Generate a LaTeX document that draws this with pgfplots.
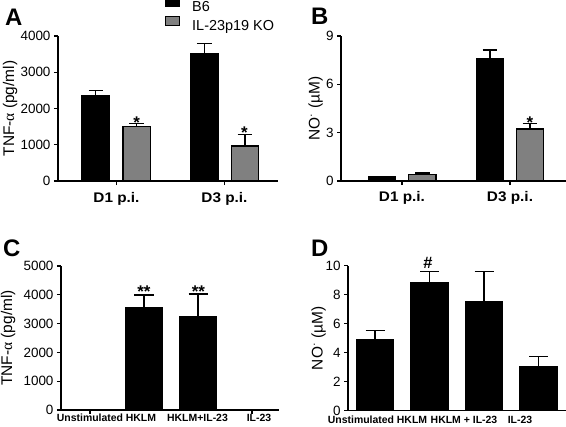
\documentclass[border=0pt]{standalone}
\usepackage{fontspec}
\setmainfont{Liberation Sans}
\newfontfamily\greek{Liberation Serif}
\newfontfamily\xlab[FakeStretch=1.1]{Liberation Sans Bold}
\usepackage{pgfplots}
\pgfplotsset{compat=1.18}
\definecolor{kogray}{gray}{0.5}

\pgfplotsset{
  panel/.style={
    scale only axis, anchor=south west, clip=false,
    axis lines=left, axis line style={-, line width=1.3bp, black},
    tick align=outside, major tick length=4bp,
    tick style={line width=1.3bp, black},
    /pgf/number format/assume math mode=true,
    /pgf/number format/1000 sep={},
    scaled y ticks=false,
    tick label style={font=\fontsize{13.5}{15}\selectfont},
    ylabel style={font=\fontsize{15.5}{17}\selectfont, anchor=center},
  },
  mybar/.style={ybar, bar shift=0pt, draw=black, line width=1.2bp,
    error bars/y dir=plus, error bars/y explicit,
    error bars/error bar style={line width=1.2bp, black},
    error bars/error mark options={rotate=90, line width=1.2bp, black, mark size=#1}},
}
\tikzset{starnode/.style={anchor=base, font=\bfseries\fontsize{17}{17}\selectfont, inner sep=0pt}}

\begin{document}
\begin{tikzpicture}
\path[use as bounding box] (0,0) rectangle (566bp,-427bp);

% Panel letters
\node[anchor=base west, inner sep=0pt, font=\bfseries\fontsize{24}{24}\selectfont] at (5bp,-25bp) {A};
\node[anchor=base west, inner sep=0pt, font=\bfseries\fontsize{24}{24}\selectfont] at (311bp,-24bp) {B};
\node[anchor=base west, inner sep=0pt, font=\bfseries\fontsize{24}{24}\selectfont] at (3bp,-256bp) {C};
\node[anchor=base west, inner sep=0pt, font=\bfseries\fontsize{24}{24}\selectfont] at (311bp,-256bp) {D};

% ---------------- Panel A ----------------
\begin{axis}[panel, at={(58bp,-181bp)}, width=220bp, height=145bp,
  xmin=58, xmax=278, ymin=0, ymax=4000, ytick={0,1000,2000,3000,4000},
  xtick={116.5,224.5}, xticklabels={D1 p.i., D3 p.i.},
  xticklabel style={font=\xlab\fontsize{14}{16}\selectfont, yshift=-4bp},
  ylabel={TNF-{\greek α} (pg/ml)},
  ylabel style={at={(axis description cs:-0.218,0.5)}},
  legend style={at={(axis description cs:0.4864,1.2717)}, anchor=north west,
    draw=none, fill=none, inner sep=0pt, outer sep=0pt,
    font=\fontsize{14.5}{16}\selectfont, row sep=3bp,
    nodes={inner sep=0pt},
    /tikz/every odd column/.append style={column sep=12bp}},
  legend cell align=left,
]
\addplot[mybar=7.3bp, fill=black, bar width=27.5, forget plot]
  coordinates {(95.8,2345) +- (0,145) (204.2,3503) +- (0,295)};
\addplot[mybar=7.3bp, fill=kogray, bar width=27.5, forget plot]
  coordinates {(136.7,1498) +- (0,94) (245,966) +- (0,322)};
\addlegendimage{legend image code/.code={\draw[fill=black,draw=black,line width=1.2bp] (0bp,0.7bp) rectangle (14bp,9.7bp);}}
\addlegendentry{B6}
\addlegendimage{legend image code/.code={\draw[fill=kogray,draw=black,line width=1.2bp] (0bp,0.7bp) rectangle (14bp,9.7bp);}}
\addlegendentry{IL-23p19 KO}
\node[starnode] at (axis cs:136.7,1459) {*};
\node[starnode] at (axis cs:244.3,1164) {*};
\end{axis}

% ---------------- Panel B ----------------
\begin{axis}[panel, at={(341bp,-181bp)}, width=225bp, height=145bp,
  xmin=341, xmax=566, ymin=0, ymax=9, ytick={0,3,6,9},
  xtick={402,510}, xticklabels={D1 p.i., D3 p.i.},
  xticklabel style={font=\xlab\fontsize{14}{16}\selectfont, yshift=-3bp},
  ylabel={NO\textsuperscript{·} (µM)},
  ylabel style={at={(axis description cs:-0.113,0.5)}},
]
\addplot[mybar=7.3bp, fill=black, bar width=27.5]
  coordinates {(382,0.25) +- (0,0.03) (490,7.62) +- (0,0.51)};
\addplot[mybar=7.3bp, fill=kogray, bar width=27.5]
  coordinates {(422.3,0.42) +- (0,0.08) (530,3.23) +- (0,0.35)};
\node[starnode] at (axis cs:530,3.28) {*};
\end{axis}

% ---------------- Panel C ----------------
\begin{axis}[panel, at={(61bp,-410bp)}, width=218bp, height=144bp,
  xmin=61, xmax=279, ymin=0, ymax=5000, ytick={0,1000,2000,3000,4000,5000},
  xtick={90,252}, xticklabels={Unstimulated,},
  extra x ticks={141,197.5,259}, extra x tick labels={HKLM, HKLM+IL-23, IL-23},
  extra x tick style={major tick length=0pt, xticklabel style={yshift=-4bp}},
  xticklabel style={font=\bfseries\fontsize{10.5}{12}\selectfont, yshift=3.5bp},
  ylabel={TNF-{\greek α} (pg/ml)},
  ylabel style={at={(axis description cs:-0.242,0.5)}},
]
\addplot[mybar=9.5bp, fill=black, bar width=37]
  coordinates {(144,3566) +- (0,427) (198,3240) +- (0,788)};
\node[starnode] at (axis cs:144,3920) {**};
\node[starnode] at (axis cs:198.5,3920) {**};
\end{axis}

% ---------------- Panel D ----------------
\begin{axis}[panel, at={(348bp,-410.7bp)}, width=218bp, height=145bp,
  xmin=348, xmax=566, ymin=0, ymax=10, ytick={0,2,4,6,8,10},
  xtick={361,412,464,520},
  xticklabels={Unstimulated, HKLM, HKLM + IL-23, IL-23},
  xtick style={draw=none},
  xticklabel style={font=\bfseries\fontsize{10.5}{12}\selectfont, yshift=2bp},
  ylabel={NO\textsuperscript{·} (µM)},
  ylabel style={at={(axis description cs:-0.135,0.5)}},
]
\addplot[mybar=9.5bp, fill=black, bar width=37]
  coordinates {(375,4.90) +- (0,0.62) (429.5,8.86) +- (0,0.73)
               (484,7.52) +- (0,2.07) (538.5,3.06) +- (0,0.69)};
\node[anchor=base, inner sep=0pt, font=\bfseries\fontsize{16.5}{17}\selectfont] at (axis cs:428,9.80) {\#};
\end{axis}
\end{tikzpicture}
\end{document}
